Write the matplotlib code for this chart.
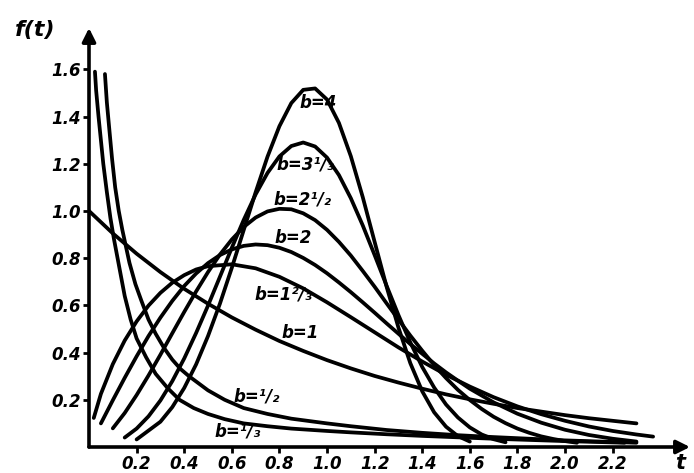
import matplotlib
matplotlib.use('Agg')
import matplotlib.pyplot as plt

# curves: t values and f(t) values for each b
t_b4 = [0.2, 0.3, 0.35, 0.4, 0.45, 0.5, 0.55, 0.6, 0.65, 0.7, 0.75, 0.8, 0.85, 0.9, 0.95, 1.0,
        1.05, 1.1, 1.15, 1.2, 1.25, 1.3, 1.35, 1.4, 1.45, 1.5, 1.55, 1.6]
f_b4 = [0.032, 0.107, 0.169, 0.25, 0.35, 0.47, 0.607, 0.759, 0.919, 1.079, 1.23, 1.359, 1.457, 1.513, 1.519, 1.472,
        1.373, 1.232, 1.059, 0.869, 0.68, 0.506, 0.355, 0.236, 0.147, 0.086, 0.046, 0.023]

t_b313 = [0.15, 0.2, 0.25, 0.3, 0.35, 0.4, 0.45, 0.5, 0.55, 0.6, 0.65, 0.7, 0.75, 0.8, 0.85, 0.9, 0.95, 1.0,
          1.05, 1.1, 1.15, 1.2, 1.25, 1.3, 1.35, 1.4, 1.45, 1.5, 1.55, 1.6, 1.65, 1.7, 1.75]
f_b313 = [0.04, 0.078, 0.13, 0.197, 0.279, 0.375, 0.483, 0.599, 0.721, 0.844, 0.962, 1.07, 1.161, 1.231, 1.275, 1.29, 1.273, 1.226,
          1.152, 1.054, 0.939, 0.813, 0.684, 0.559, 0.443, 0.339, 0.252, 0.18, 0.125, 0.083, 0.053, 0.033, 0.02]

t_b212 = [0.1, 0.15, 0.2, 0.25, 0.3, 0.35, 0.4, 0.45, 0.5, 0.55, 0.6, 0.65, 0.7, 0.75, 0.8, 0.85, 0.9, 0.95, 1.0,
          1.05, 1.1, 1.15, 1.2, 1.25, 1.3, 1.35, 1.4, 1.45, 1.5, 1.55, 1.6, 1.65, 1.7, 1.75, 1.8, 1.85, 1.9, 1.95, 2.0, 2.05]
f_b212 = [0.079, 0.144, 0.22, 0.303, 0.391, 0.482, 0.572, 0.659, 0.741, 0.815, 0.879, 0.932, 0.972, 0.998, 1.009, 1.007, 0.99, 0.961, 0.92,
          0.869, 0.811, 0.746, 0.679, 0.609, 0.54, 0.472, 0.408, 0.347, 0.292, 0.242, 0.199, 0.161, 0.128, 0.101, 0.078, 0.06, 0.045, 0.034, 0.025, 0.018]

t_b2 = [0.05, 0.1, 0.15, 0.2, 0.25, 0.3, 0.35, 0.4, 0.45, 0.5, 0.55, 0.6, 0.65, 0.7, 0.75, 0.8, 0.85, 0.9, 0.95, 1.0,
        1.05, 1.1, 1.15, 1.2, 1.25, 1.3, 1.35, 1.4, 1.45, 1.5, 1.55, 1.6, 1.7, 1.8, 1.9, 2.0, 2.1, 2.2, 2.3]
f_b2 = [0.1, 0.198, 0.293, 0.384, 0.47, 0.548, 0.619, 0.682, 0.735, 0.779, 0.813, 0.837, 0.852, 0.858, 0.855, 0.844, 0.826, 0.801, 0.771, 0.736,
        0.697, 0.656, 0.613, 0.569, 0.524, 0.48, 0.436, 0.395, 0.354, 0.316, 0.281, 0.247, 0.189, 0.141, 0.103, 0.073, 0.051, 0.035, 0.023]

t_b123 = [0.02, 0.05, 0.1, 0.15, 0.2, 0.25, 0.3, 0.35, 0.4, 0.45, 0.5, 0.6, 0.7, 0.8, 0.9, 1.0, 1.1, 1.2, 1.3, 1.4,
          1.5, 1.6, 1.7, 1.8, 1.9, 2.0, 2.1, 2.2, 2.3, 2.37]
f_b123 = [0.123, 0.225, 0.351, 0.451, 0.532, 0.599, 0.653, 0.696, 0.728, 0.752, 0.766, 0.774, 0.757, 0.721, 0.672, 0.613, 0.55, 0.486, 0.422, 0.362,
          0.306, 0.256, 0.211, 0.172, 0.139, 0.111, 0.087, 0.068, 0.053, 0.044]

t_b1 = [0.0, 0.1, 0.2, 0.3, 0.4, 0.5, 0.6, 0.7, 0.8, 0.9, 1.0, 1.1, 1.2, 1.3, 1.4, 1.5, 1.6, 1.7, 1.8, 1.9, 2.0, 2.1, 2.2, 2.3]
f_b1 = [1.0, 0.905, 0.819, 0.741, 0.67, 0.607, 0.549, 0.497, 0.449, 0.407, 0.368, 0.333, 0.301, 0.273, 0.247, 0.223, 0.202, 0.183, 0.165, 0.15, 0.135, 0.122, 0.111, 0.1]

t_b12 = [0.067, 0.075, 0.085, 0.097, 0.11, 0.125, 0.14, 0.155, 0.17, 0.195, 0.22, 0.25, 0.28, 0.315, 0.35, 0.385,
         0.42, 0.46, 0.5, 0.57, 0.65, 0.75, 0.85, 1.0, 1.1, 1.25, 1.4, 1.55, 1.7, 1.85, 2.0, 2.3]
f_b12 = [1.58, 1.46, 1.35, 1.22, 1.1, 1.0, 0.92, 0.85, 0.78, 0.69, 0.62, 0.54, 0.48, 0.42, 0.37, 0.33,
         0.3, 0.27, 0.24, 0.2, 0.165, 0.14, 0.12, 0.1, 0.088, 0.072, 0.06, 0.05, 0.042, 0.035, 0.028, 0.018]

t_b13 = [0.025, 0.03, 0.04, 0.05, 0.06, 0.075, 0.09, 0.105, 0.12, 0.135, 0.15, 0.175, 0.2, 0.24, 0.28, 0.33,
         0.38, 0.44, 0.5, 0.57, 0.65, 0.75, 0.85, 1.0, 1.1, 1.25, 1.4, 1.55, 1.7, 1.85, 2.0, 2.25]
f_b13 = [1.59, 1.51, 1.4, 1.3, 1.2, 1.08, 0.97, 0.88, 0.8, 0.72, 0.64, 0.54, 0.46, 0.38, 0.31, 0.25,
         0.2, 0.165, 0.14, 0.118, 0.1, 0.088, 0.078, 0.068, 0.062, 0.054, 0.047, 0.041, 0.035, 0.03, 0.025, 0.018]

# label text and where it sits (t, f)
labels = ['b=4', 'b=3¹/₃', 'b=2¹/₂', 'b=2', 'b=1²/₃', 'b=1', 'b=¹/₂', 'b=¹/₃']
label_t = [0.962, 0.908, 0.899, 0.857, 0.815, 0.887, 0.706, 0.626]
label_f = [1.458, 1.195, 1.047, 0.886, 0.644, 0.483, 0.212, 0.064]

xticks = [0.2, 0.4, 0.6, 0.8, 1.0, 1.2, 1.4, 1.6, 1.8, 2.0, 2.2]
yticks = [0.2, 0.4, 0.6, 0.8, 1.0, 1.2, 1.4, 1.6]

fig = plt.figure(figsize=(6.94, 4.73), dpi=100)
ax = fig.add_axes([89/694, 26/473, 601/694, 419/473])

curves = [(t_b4, f_b4), (t_b313, f_b313), (t_b212, f_b212), (t_b2, f_b2),
          (t_b123, f_b123), (t_b1, f_b1), (t_b12, f_b12), (t_b13, f_b13)]
for ts, fs in curves:
    ax.plot(ts, fs, color='black', lw=2.7, solid_capstyle='round', solid_joinstyle='round')

for txt, lt, lf in zip(labels, label_t, label_f):
    ax.text(lt, lf, txt, ha='center', va='center', fontsize=12, style='italic', weight='bold')

ax.set_xlim(0, 2.525)
ax.set_ylim(0, 1.775)
for s in ax.spines.values():
    s.set_visible(False)

# axis arrows
ax.annotate('', xy=(1.0, 0), xytext=(0, 0), xycoords='axes fraction',
            arrowprops=dict(arrowstyle='-|>', lw=2.6, color='black', mutation_scale=20, shrinkA=0, shrinkB=0))
ax.annotate('', xy=(0, 1.0), xytext=(0, 0), xycoords='axes fraction',
            arrowprops=dict(arrowstyle='-|>', lw=2.6, color='black', mutation_scale=20, shrinkA=0, shrinkB=0))

ax.set_xticks(xticks)
ax.set_xticklabels(['%.1f' % v for v in xticks], fontsize=12, style='italic', weight='bold')
ax.set_yticks(yticks)
ax.set_yticklabels(['%.1f' % v for v in yticks], fontsize=12, style='italic', weight='bold')
ax.tick_params(direction='out', length=4, width=2, pad=2)

fig.text(35/694, 1 - 30/473, 'f(t)', fontsize=16, style='italic', weight='bold', ha='center', va='center')
fig.text(680/694, 1 - 463/473, 't', fontsize=15, style='italic', weight='bold', ha='center', va='center')

fig.savefig('out.png', dpi=100)
